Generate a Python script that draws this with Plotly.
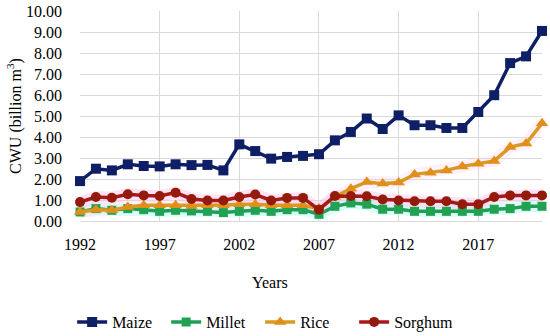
import plotly.graph_objects as go

years = list(range(1992, 2022))
maize = [1.90, 2.49, 2.41, 2.70, 2.62, 2.60, 2.70, 2.66, 2.67, 2.41, 3.65, 3.33, 2.97, 3.05, 3.10,
         3.18, 3.84, 4.24, 4.88, 4.38, 5.03, 4.56, 4.56, 4.43, 4.43, 5.19, 5.99, 7.52, 7.84, 9.05]
millet = [0.43, 0.59, 0.51, 0.59, 0.54, 0.46, 0.51, 0.48, 0.46, 0.40, 0.46, 0.51, 0.46, 0.54, 0.54,
          0.32, 0.70, 0.86, 0.80, 0.56, 0.56, 0.46, 0.46, 0.46, 0.46, 0.46, 0.56, 0.59, 0.70, 0.70]
rice = [0.43, 0.54, 0.51, 0.67, 0.75, 0.75, 0.75, 0.72, 0.75, 0.75, 0.80, 0.80, 0.75, 0.75, 0.75,
        0.59, 1.14, 1.54, 1.86, 1.78, 1.83, 2.22, 2.30, 2.41, 2.60, 2.73, 2.86, 3.52, 3.69, 4.65]
sorghum = [0.90, 1.14, 1.11, 1.27, 1.22, 1.19, 1.35, 1.05, 0.98, 0.98, 1.14, 1.26, 0.98, 1.10, 1.10,
           0.54, 1.19, 1.19, 1.18, 1.02, 0.98, 0.94, 0.94, 0.94, 0.80, 0.80, 1.14, 1.22, 1.22, 1.22]
x_ticks = [1992, 1997, 2002, 2007, 2012, 2017]

FONT = "Liberation Serif"
fig = go.Figure()

# soft glow effects behind some series
for ys, col in [(millet, "rgba(170,255,240,0.45)"), (rice, "rgba(255,205,235,0.30)"),
                (sorghum, "rgba(255,190,230,0.45)")]:
    fig.add_trace(go.Scatter(x=years, y=ys, mode="lines", line=dict(color=col, width=12),
                             showlegend=False, hoverinfo="skip", cliponaxis=False))

series = [
    ("Maize", maize, "#0f1f66", "#0f1f66", "square", 10),
    ("Millet", millet, "#1f9e55", "#21a253", "square", 9),
    ("Rice", rice, "#d99a22", "#e0901a", "triangle-up", 11),
    ("Sorghum", sorghum, "#a51a1a", "#941a0c", "circle", 10),
]
for name, ys, lc, mc, sym, sz in series:
    fig.add_trace(go.Scatter(
        x=years, y=ys, name=name, mode="lines+markers",
        line=dict(color=lc, width=3.5),
        marker=dict(symbol=sym, size=sz, color=mc, line=dict(width=0)),
        cliponaxis=False,
    ))

# empty legend spacer so the last legend label is not clipped
fig.add_trace(go.Scatter(x=[None], y=[None], name=" ", mode="markers", opacity=0,
                         marker=dict(color="rgba(0,0,0,0)", size=1, line=dict(width=0)),
                         hoverinfo="skip", showlegend=True))

fig.update_layout(
    width=550, height=336,
    margin=dict(l=80, r=8, t=11, b=115, autoexpand=False),
    paper_bgcolor="white", plot_bgcolor="white",
    font=dict(family=FONT, size=16, color="#000000"),
    showlegend=True,
    legend=dict(orientation="h", x=-0.017, xanchor="left", y=-0.481, yanchor="middle",
                font=dict(family=FONT, size=16), itemwidth=30, traceorder="normal",
                entrywidth=49, entrywidthmode="pixels", itemclick=False, itemdoubleclick=False,
                bgcolor="rgba(0,0,0,0)"),
    xaxis=dict(range=[1992, 2021], tickvals=x_ticks, ticktext=[str(v) for v in x_ticks],
               showgrid=True, gridcolor="#d9d9d9", gridwidth=1, zeroline=False,
               showline=False, ticks="", ticklabelstandoff=12, automargin=False,
               tickfont=dict(family=FONT, size=16)),
    yaxis=dict(range=[0, 10], dtick=1, tickformat=".2f", showgrid=True,
               gridcolor="#d9d9d9", gridwidth=1, zeroline=True, zerolinecolor="#d9d9d9",
               zerolinewidth=1, showline=False, ticks="", ticklabelstandoff=17, automargin=False,
               tickfont=dict(family=FONT, size=16)),
    annotations=[
        dict(text="Years", x=0.411, y=-0.295, xref="paper", yref="paper",
             showarrow=False, font=dict(family=FONT, size=16), xanchor="center", yanchor="middle"),
        dict(text="CWU (billion m<sup>3</sup>)", x=-0.143, y=0.5, xref="paper", yref="paper",
             showarrow=False, textangle=-90, font=dict(family=FONT, size=16),
             xanchor="center", yanchor="middle"),
    ],
)

fig.write_html("out.html", config={"displayModeBar": False},
               post_script="document.body.style.margin='0px';")
